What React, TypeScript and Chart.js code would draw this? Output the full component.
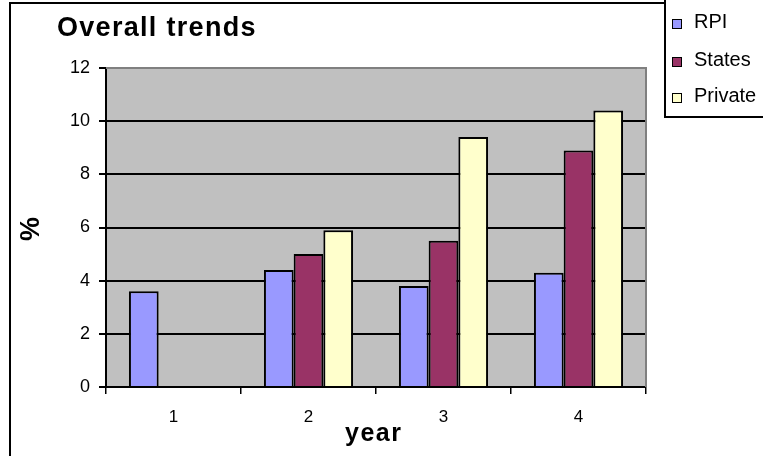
import React, { useEffect, useRef } from "react";
import { Chart, registerables } from "chart.js";

Chart.register(...registerables);

const categories = ["1", "2", "3", "4"];
const rpiValues = [3.6, 4.4, 3.8, 4.3];
const statesValues: (number | null)[] = [null, 5.0, 5.5, 8.9];
const privateValues: (number | null)[] = [null, 5.9, 9.4, 10.4];
const seriesLabels = ["RPI", "States", "Private"];
const seriesColors = ["#9999ff", "#993366", "#ffffcc"];
const yMin = 0;
const yMax = 12;
const yStep = 2;
const titleText = "Overall trends";
const xTitle = "year";
const yTitle = "%";

const FONT = "'Liberation Sans', Arial, sans-serif";

const decorPlugin = {
  id: "decor",
  beforeDraw(chart: any) {
    const { ctx, chartArea } = chart;
    ctx.save();
    ctx.fillStyle = "#ffffff";
    ctx.fillRect(0, 0, chart.width, chart.height);
    ctx.fillStyle = "#c0c0c0";
    ctx.fillRect(chartArea.left, chartArea.top, chartArea.right - chartArea.left, chartArea.bottom - chartArea.top);
    ctx.restore();
  },
  afterDraw(chart: any) {
    const { ctx, chartArea } = chart;
    ctx.save();
    // plot area gray border (top & right)
    ctx.strokeStyle = "#808080";
    ctx.lineWidth = 2;
    ctx.beginPath();
    ctx.moveTo(chartArea.left, chartArea.top);
    ctx.lineTo(chartArea.right, chartArea.top);
    ctx.lineTo(chartArea.right, chartArea.bottom);
    ctx.stroke();

    // outer frame
    ctx.strokeStyle = "#000000";
    ctx.lineWidth = 2;
    ctx.beginPath();
    ctx.moveTo(10, chart.height);
    ctx.lineTo(10, 3);
    ctx.lineTo(665, 3);
    ctx.stroke();

    // title
    ctx.fillStyle = "#000";
    ctx.font = `bold 27px ${FONT}`;
    ctx.textAlign = "left";
    ctx.textBaseline = "alphabetic";
    (ctx as any).letterSpacing = "1.3px";
    ctx.fillText(titleText, 57, 36);

    // x title
    ctx.font = `bold 25px ${FONT}`;
    (ctx as any).letterSpacing = "1.5px";
    ctx.textAlign = "left";
    ctx.fillText(xTitle, 345, 441);
    (ctx as any).letterSpacing = "0px";

    // y title
    ctx.save();
    ctx.translate(32, 229);
    ctx.rotate(-Math.PI / 2);
    ctx.font = `bold 27px ${FONT}`;
    ctx.textAlign = "center";
    ctx.textBaseline = "middle";
    ctx.fillText(yTitle, 0, 0);
    ctx.restore();

    // legend
    ctx.fillStyle = "#fff";
    ctx.fillRect(665, 0, 100, 117);
    ctx.strokeStyle = "#000";
    ctx.lineWidth = 2;
    ctx.strokeRect(665, -2, 110, 119);
    const baselines = [28, 66, 102];
    ctx.font = `20px ${FONT}`;
    ctx.textAlign = "left";
    ctx.textBaseline = "alphabetic";
    seriesLabels.forEach((lab, i) => {
      const b = baselines[i];
      ctx.fillStyle = seriesColors[i];
      ctx.fillRect(672, b - 9, 10, 10);
      ctx.strokeStyle = "#000";
      ctx.lineWidth = 1;
      ctx.strokeRect(672.5, b - 8.5, 9, 9);
      ctx.fillStyle = "#000";
      ctx.fillText(lab, 694, b);
    });
    ctx.restore();
  },
};

export default function App() {
  const ref = useRef<HTMLCanvasElement>(null);
  useEffect(() => {
    document.body.style.margin = "0";
    const c = ref.current!;
    const chart = new Chart(c, {
      type: "bar",
      data: {
        labels: categories,
        datasets: [
          { label: seriesLabels[0], data: rpiValues, backgroundColor: seriesColors[0] },
          { label: seriesLabels[1], data: statesValues, backgroundColor: seriesColors[1] },
          { label: seriesLabels[2], data: privateValues, backgroundColor: seriesColors[2] },
        ].map((d) => ({
          ...d,
          borderColor: "#000",
          borderWidth: 2,
          categoryPercentage: 0.66,
          barPercentage: 1,
        })) as any,
      },
      options: {
        responsive: false,
        animation: false,
        devicePixelRatio: 1,
        layout: { padding: { left: 0, top: 68, right: 117, bottom: 0 } },
        plugins: { legend: { display: false }, title: { display: false }, tooltip: { enabled: false } },
        scales: {
          x: {
            offset: true,
            grid: { offset: true, drawOnChartArea: false, color: "#000", lineWidth: 1.5, tickLength: 7 },
            border: { color: "#000", width: 2 },
            ticks: { color: "#000", font: { family: FONT, size: 17 }, padding: 13 },
            afterFit: (s: any) => {
              s.height = 69;
            },
          },
          y: {
            min: yMin,
            max: yMax,
            grid: { color: "#000", lineWidth: 2, tickLength: 7 },
            border: { color: "#000", width: 2 },
            ticks: { stepSize: yStep, color: "#000", font: { family: FONT, size: 18 }, padding: 9 },
            afterFit: (s: any) => {
              s.width = 106;
            },
          },
        },
      },
      plugins: [decorPlugin],
    });
    return () => chart.destroy();
  }, []);
  return (
    <div style={{ position: "absolute", left: 0, top: 0, width: 763, height: 456 }}>
      <canvas ref={ref} width={763} height={456} style={{ display: "block", width: 763, height: 456 }} />
    </div>
  );
}
